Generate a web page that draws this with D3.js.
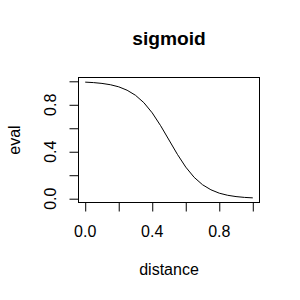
<!DOCTYPE html>
<html>
<head>
<meta charset="utf-8">
<script src="https://cdn.jsdelivr.net/npm/d3@7"></script>
<style>
  body { margin: 0; background: #fff; }
  text { font-family: "Liberation Sans", Arial, sans-serif; fill: #000; }
</style>
</head>
<body>
<div id="vis"></div>
<script>
// values
let distance = [0, 0.05, 0.1, 0.15, 0.2, 0.25, 0.3, 0.35, 0.4, 0.45, 0.5,
                0.55, 0.6, 0.65, 0.7, 0.75, 0.8, 0.85, 0.9, 0.95, 1];
let evalValues = [0.993, 0.989, 0.982, 0.971, 0.953, 0.924, 0.881, 0.818, 0.731, 0.622, 0.5,
                  0.378, 0.269, 0.182, 0.119, 0.076, 0.047, 0.029, 0.018, 0.011, 0.007];
let xTicks = [0, 0.2, 0.4, 0.6, 0.8, 1.0];
let xTickLabels = [0, 0.4, 0.8];
let yTicks = [0, 0.2, 0.4, 0.6, 0.8, 1.0];
let yTickLabels = [0, 0.4, 0.8];

let margin = { top: 77.5, left: 78.5, right: 40.5, bottom: 97.5 },
    width = 300 - margin.left - margin.right,
    height = 300 - margin.top - margin.bottom;

let svg = d3.select('#vis')
    .append('svg')
    .attr('width', 300)
    .attr('height', 300)
    .style('background-color', '#fff');

// R-style 4% padding around the data range
function pad(ext) {
    let r = ext[1] - ext[0];
    return [ext[0] - 0.04 * r, ext[1] + 0.04 * r];
}

let x = d3.scaleLinear()
    .domain(pad(d3.extent(distance)))
    .range([margin.left, margin.left + width]);

let y = d3.scaleLinear()
    .domain(pad(d3.extent(evalValues)))
    .range([margin.top + height, margin.top]);

let fmt = d3.format('.1f');

// x axis
let xAxis = svg.append('g')
    .attr('transform', `translate(0,${margin.top + height})`)
    .call(d3.axisBottom(x).tickValues(xTicks).tickSizeInner(9).tickSizeOuter(0).tickFormat(''));
xAxis.select('.domain').attr('d', `M${x(0)},0H${x(1)}`);
xAxis.selectAll('line').attr('stroke', '#000');

svg.selectAll('.xlab')
    .data(xTickLabels)
    .join('text')
    .attr('class', 'xlab')
    .attr('x', d => x(d))
    .attr('y', 237)
    .attr('text-anchor', 'middle')
    .style('font-size', '16px')
    .text(d => fmt(d));

// y axis
let yAxis = svg.append('g')
    .attr('transform', `translate(${margin.left},0)`)
    .call(d3.axisLeft(y).tickValues(yTicks).tickSizeInner(9).tickSizeOuter(0).tickFormat(''));
yAxis.select('.domain').attr('d', `M0,${y(0)}V${y(1)}`);
yAxis.selectAll('line').attr('stroke', '#000');

svg.selectAll('.ylab')
    .data(yTickLabels)
    .join('text')
    .attr('class', 'ylab')
    .attr('transform', d => `translate(56,${y(d)}) rotate(-90)`)
    .attr('text-anchor', 'middle')
    .style('font-size', '16px')
    .text(d => fmt(d));

// box
svg.append('rect')
    .attr('x', margin.left)
    .attr('y', margin.top)
    .attr('width', width)
    .attr('height', height)
    .attr('fill', 'none')
    .attr('stroke', '#000');

// curve
let line = d3.line()
    .x((d, i) => x(distance[i]))
    .y(d => y(d));

svg.append('path')
    .datum(evalValues)
    .attr('d', line)
    .attr('fill', 'none')
    .attr('stroke', '#000')
    .attr('stroke-width', 1);

// titles
svg.append('text')
    .attr('x', margin.left + width / 2)
    .attr('y', 45)
    .attr('text-anchor', 'middle')
    .style('font-size', '19.2px')
    .style('font-weight', 'bold')
    .text('sigmoid');

svg.append('text')
    .attr('x', margin.left + width / 2)
    .attr('y', 275)
    .attr('text-anchor', 'middle')
    .style('font-size', '16px')
    .text('distance');

svg.append('text')
    .attr('transform', `translate(20,${margin.top + height / 2}) rotate(-90)`)
    .attr('text-anchor', 'middle')
    .style('font-size', '16px')
    .text('eval');
</script>
</body>
</html>
